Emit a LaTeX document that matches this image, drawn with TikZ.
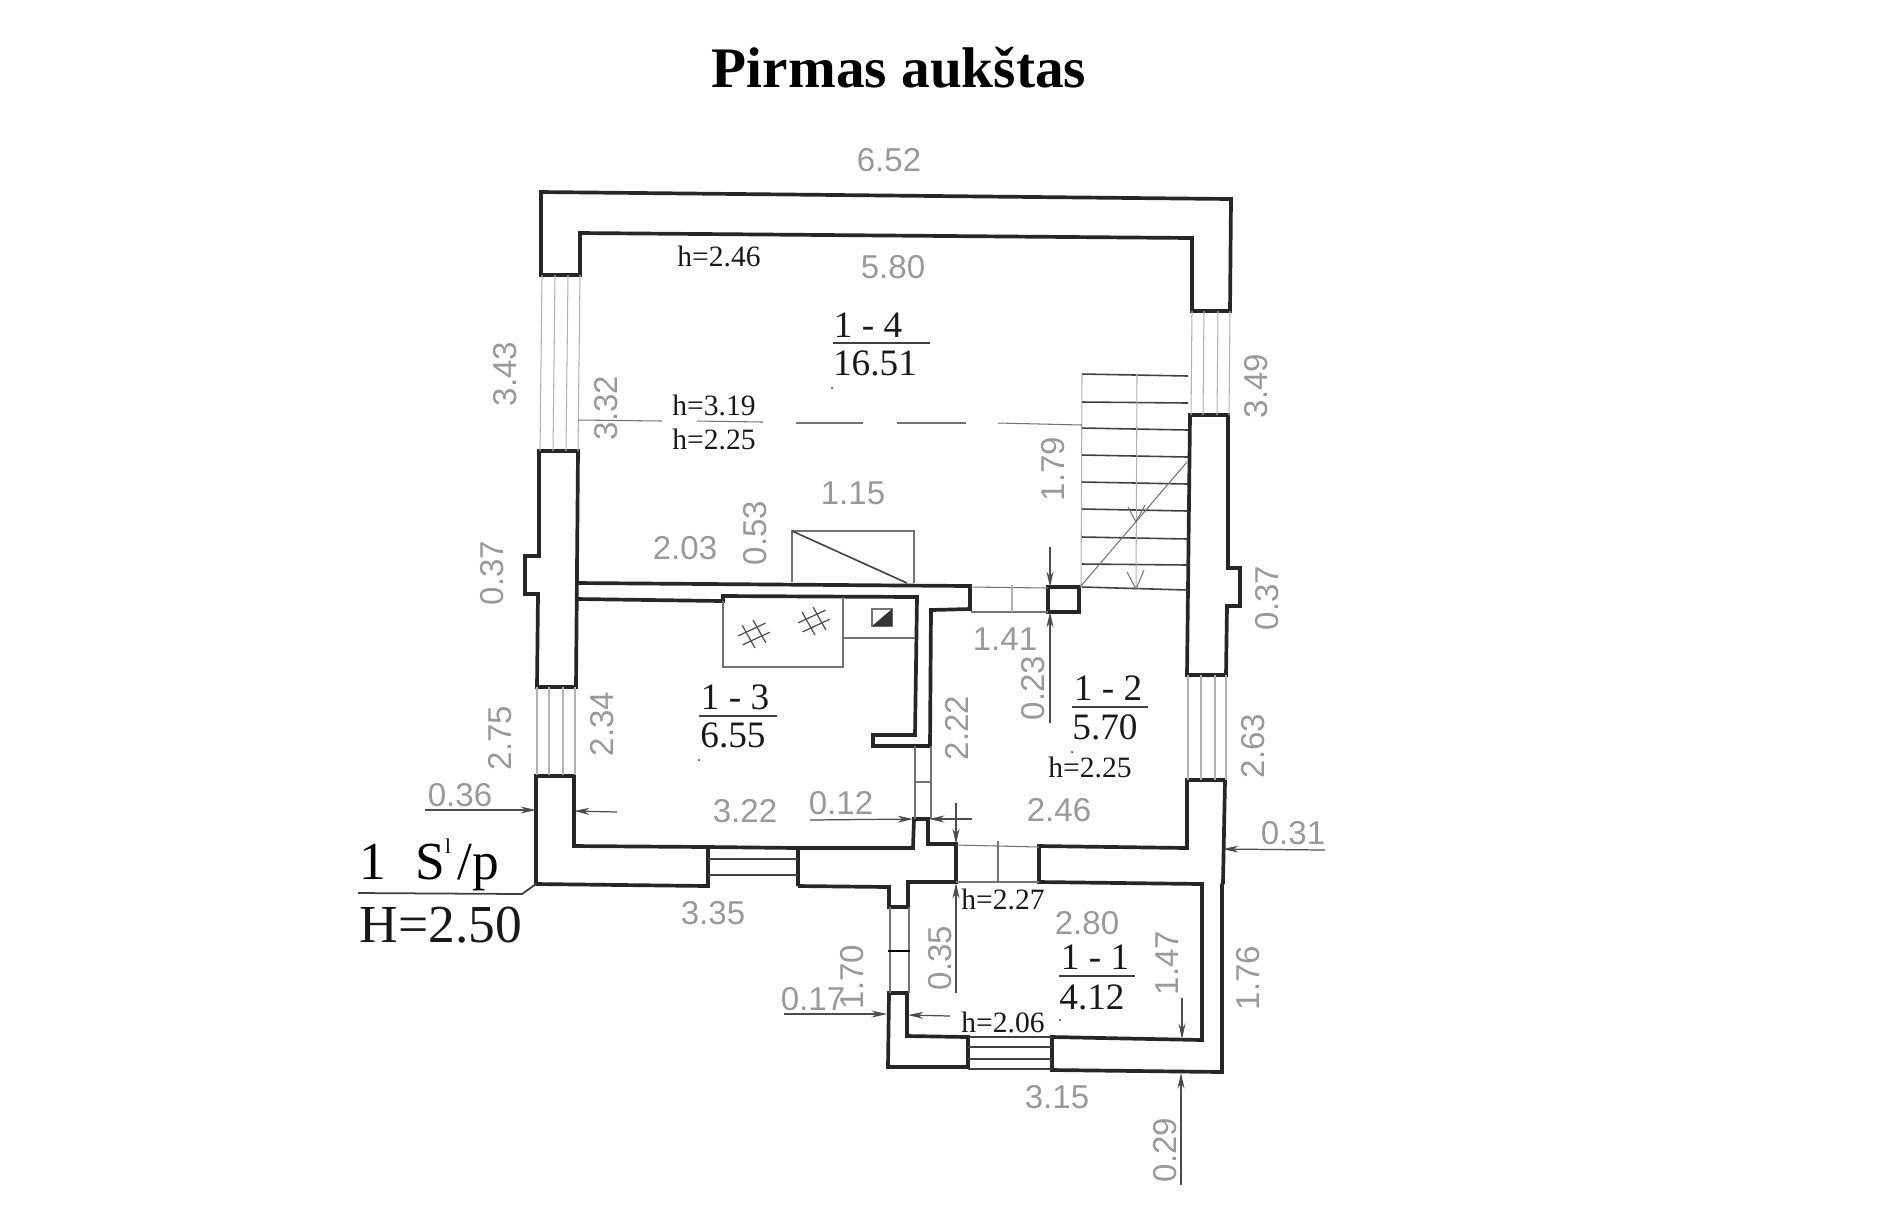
\documentclass[tikz,border=0pt]{standalone}
\usepackage{fontspec}
\setmainfont{Liberation Serif}
\newfontfamily\dimfont{Liberation Sans}
\usetikzlibrary{arrows.meta}
\tikzset{
wallline/.style={line width=1.05pt, draw=black!85, line join=miter},
thinline/.style={line width=0.3pt, draw=black!55},
fineline/.style={line width=0.3pt, draw=black!30},
treadline/.style={line width=0.45pt, draw=black!75},
dimline/.style={line width=0.35pt, draw=black!70, -{Stealth[length=4.4pt,width=2pt]}},
dimtext/.style={font=\dimfont\fontsize{9.4}{10}\selectfont, text=black!40, inner sep=0pt},
roomtext/.style={font=\fontsize{10.6}{12}\selectfont, text=black!90, inner sep=0pt},
hlabel/.style={font=\fontsize{8.4}{10}\selectfont, text=black!90, inner sep=0pt},
hashline/.style={line width=0.35pt, draw=black!70}
}
\begin{document}
\begin{tikzpicture}[x=0.01cm,y=-0.01cm]
\useasboundingbox (0,0) rectangle (1900,1229);
\node[font=\bfseries\fontsize{16.3}{20}\selectfont, inner sep=0pt] (title) at (899,68) {Pirmas aukštas};
\draw[wallline] (541,192) -- (1231,199) -- (1230,311) -- (1192,311) -- (1192,238) -- (580,233) -- (580,275) -- (541,275) -- cycle;
\draw[wallline] (539,451) -- (578,451) -- (576,687) -- (537,687) -- (538,594) -- (525,594) -- (525,556) -- (539,556) -- cycle;
\draw[wallline] (1190,415) -- (1228,415) -- (1228,568) -- (1240,568) -- (1240,606) -- (1227,606) -- (1226,675) -- (1187,675) -- cycle;
\draw[wallline] (577,583) -- (970,586) -- (970,609) -- (931,610) -- (930,746) -- (873,746) -- (873,735) -- (915,735) -- (917,597) -- (723,596) -- (723,601) -- (577,599);
\draw[wallline] (1048,587) rectangle (1079,612);
\draw[wallline] (536,776) -- (574,776) -- (574,846) -- (708,847) -- (708,886) -- (536,884) -- cycle;
\draw[wallline] (708,847) -- (798,848) -- (798,886);
\draw[wallline] (798,848) -- (913,848) -- (914,819) -- (928,819) -- (928,844) -- (956,844) -- (956,882) -- (908,882) -- (908,907) -- (889,907) -- (889,887) -- (798,886);
\draw[wallline] (1039,846) -- (1187,848) -- (1187,780) -- (1225,780) -- (1223,883) -- (1222,885) -- (1222,1072) -- (1052,1070) -- (1052,1037) -- (1202,1040) -- (1202,884) -- (1039,882) -- cycle;
\draw[wallline] (888,1067) -- (889,993) -- (907,993) -- (907,1036) -- (968,1037) -- (968,1067) -- cycle;
\foreach \x in {542,555,568,580} \draw[fineline] (\x,275) -- (\x-2,451);
\foreach \x in {1192,1204,1218,1230} \draw[fineline] (\x,311) -- (\x-1,415);
\foreach \x in {537,549,563,575} \draw[fineline] (\x,687) -- (\x,775);
\foreach \x in {1188,1201,1215,1226} \draw[fineline] (\x,675) -- (\x,780);
\foreach \x in {915,931} \draw[thinline] (\x,746) -- (\x,819);
\draw[thinline] (915,782) -- (931,782);
\foreach \x in {890,909} \draw[thinline] (\x,907) -- (\x,993);
\draw[line width=0.5pt] (888,951) -- (910,951);
\foreach \y in {859,875} \draw[treadline] (708,\y) -- (798,\y);
\foreach \y in {1037,1047,1059,1069} \draw[treadline] (968,\y) -- (1052,\y);
\draw[thinline] (971,587) -- (1048,588);
\draw[thinline] (971,612) -- (1048,612);
\draw[fineline] (1012,585) -- (1012,612);
\draw[thinline] (956,845) -- (1039,847);
\draw[thinline] (956,882) -- (1039,882);
\draw[thinline] (998,841) -- (998,882);
\draw[thinline] (723,601) -- (723,667) -- (843,667) -- (843,597);
\draw[thinline] (843,638) -- (915,638);
\draw[thinline] (792,582) -- (792,531) -- (914,531) -- (914,583);
\draw[treadline] (792,531) -- (907,583);
\draw[thinline, fill=white] (872,609) rectangle (892,626);
\fill[black!80] (872,626) -- (892,609) -- (892,626) -- cycle;
\foreach \cx/\cy in {754/634,814/621} {
\begin{scope}[shift={(\cx,\cy)},rotate=25]
\draw[hashline] (-15,-5) -- (15,-5);
\draw[hashline] (-15,5) -- (15,5);
\draw[hashline] (-7,-13) -- (-5,13);
\draw[hashline] (5,-13) -- (7,13);
\end{scope}
}
\foreach \yl/\yr in {374/376,402/403,428/430,455/457,482/484,509/511,537/539,564/565,587/590} \draw[treadline] (1082,\yl) -- (1188,\yr);
\draw[fineline] (1082,374) -- (1081,587);
\draw[fineline] (1137,374) -- (1136,589);
\draw[thinline] (1080,587) -- (1187,462);
\draw[thinline] (1128,507) -- (1136,522) -- (1145,505);
\draw[thinline] (1127,572) -- (1136,589) -- (1144,570);
\draw[thinline] (578,420) -- (662,421);
\draw[thinline] (697,421) -- (763,422);
\draw[thinline] (796,423) -- (863,423);
\draw[thinline] (897,423) -- (966,423);
\draw[thinline] (998,423) -- (1082,425);
\coordinate (a1) at (425,810);
\coordinate (a2) at (536,810);
\coordinate (a3) at (617,812);
\coordinate (a4) at (574,811);
\coordinate (a5) at (810,820);
\coordinate (a6) at (913,819);
\coordinate (a7) at (972,819);
\coordinate (a8) at (929,819);
\coordinate (a9) at (956,803);
\coordinate (a10) at (956,844);
\coordinate (a11) at (956,993);
\coordinate (a12) at (956,883);
\coordinate (a13) at (784,1014);
\coordinate (a14) at (887,1014);
\coordinate (a15) at (950,1016);
\coordinate (a16) at (908,1015);
\coordinate (a17) at (1325,850);
\coordinate (a18) at (1223,849);
\coordinate (a19) at (1182,998);
\coordinate (a20) at (1182,1039);
\coordinate (a21) at (1181,1185);
\coordinate (a22) at (1181,1073);
\coordinate (a23) at (1050,547);
\coordinate (a24) at (1050,587);
\coordinate (a25) at (1050,723);
\coordinate (a26) at (1050,612);
\foreach \p/\q in {a1/a2,a3/a4,a5/a6,a7/a8,a9/a10,a11/a12,a13/a14,a15/a16,a17/a18,a19/a20,a21/a22,a23/a24,a25/a26} \draw[dimline] (\p) -- (\q);
\draw[line width=0.5pt, draw=black!75] (358,893) -- (522,894) -- (536,884);
\foreach \x/\y/\t [count=\i] in {889/160/6.52,893/267/5.80,853/493/1.15,685/548/2.03,1005/639/1.41,460/795/0.36,745/811/3.22,841/803/0.12,1059/810/2.46,1293/833/0.31,713/913/3.35,1087/923/2.80,813/999/0.17,1057/1097/3.15}
\node[dimtext] (dimh\i) at (\x,\y) {\t};
\foreach \x/\y/\t [count=\i] in {505/374/3.43,606/408/3.32,1256/386/3.49,1053/469/1.79,755/533/0.53,492/573/0.37,1267/598/0.37,500/738/2.75,602/724/2.34,957/728/2.22,1033/688/0.23,1253/746/2.63,852/977/1.70,940/958/0.35,1167/963/1.47,1248/978/1.76,1165/1150/0.29}
\node[dimtext, rotate=90] (dimv\i) at (\x,\y) {\t};
\foreach \x/\y/\t [count=\i] in {719/256/h=2.46,714/405/h=3.19,714/439/h=2.25,1090/767/h=2.25,1003/899/h=2.27,1003/1022/h=2.06}
\node[hlabel] (height\i) at (\x,\y) {\t};
\foreach \x/\y/\t [count=\i] in {868/325/1 - 4,875/363/16.51,735/697/1 - 3,733/735/6.55,1108/688/1 - 2,1105/727/5.70,1095/957/1 - 1,1092/997/4.12}
\node[roomtext] (room\i) at (\x,\y) {\t};
\foreach \xa/\xb/\y in {833/930/343,699/777/716,1072/1148/707,1059/1135/976} \draw[line width=0.5pt, draw=black!75] (\xa,\y) -- (\xb,\y);
\foreach \x/\y in {832/388,699/760,1072/752,1060/1020} \fill[black!70] (\x,\y) circle (0.35pt);
\node[font=\fontsize{15.2}{18}\selectfont, inner sep=0pt] (stype) at (429,865) {1\hspace{0.55em}S\raisebox{1.05ex}{\fontsize{6}{7}\selectfont l}\hspace{0.12em}/p};
\node[font=\fontsize{15.2}{18}\selectfont, inner sep=0pt, text=black!90] (hall) at (441,925) {H=2.50};
\end{tikzpicture}
\end{document}
